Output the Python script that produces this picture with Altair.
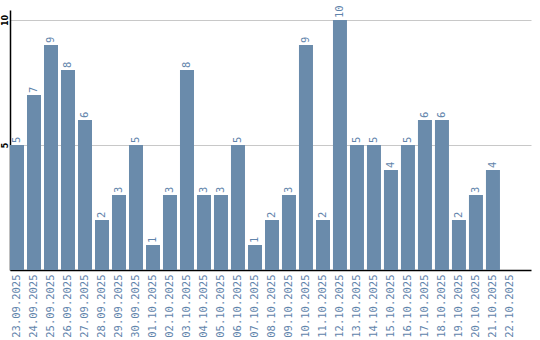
import altair as alt
import pandas as pd

dates = ["23.09.2025", "24.09.2025", "25.09.2025", "26.09.2025", "27.09.2025",
         "28.09.2025", "29.09.2025", "30.09.2025", "01.10.2025", "02.10.2025",
         "03.10.2025", "04.10.2025", "05.10.2025", "06.10.2025", "07.10.2025",
         "08.10.2025", "09.10.2025", "10.10.2025", "11.10.2025", "12.10.2025",
         "13.10.2025", "14.10.2025", "15.10.2025", "16.10.2025", "17.10.2025",
         "18.10.2025", "19.10.2025", "20.10.2025", "21.10.2025", "22.10.2025"]
values = [5, 7, 9, 8, 6, 2, 3, 5, 1, 3, 8, 3, 3, 5, 1, 2, 3, 9, 2, 10,
          5, 5, 4, 5, 6, 6, 2, 3, 4, 0]

df = pd.DataFrame({"date": dates, "value": values})

BAR = "#6a8bab"
LABEL = "#5f84ab"

x = alt.X("date:N", sort=dates, title=None,
          scale=alt.Scale(paddingInner=0.176, paddingOuter=0.413, align=0),
          axis=alt.Axis(labelAngle=-90, labelAlign="right", labelBaseline="middle",
                        labelFont="DejaVu Sans Mono", labelFontSize=10.5,
                        labelColor=LABEL, labelPadding=4, ticks=False,
                        domainColor="#000000", domainWidth=1.5, grid=False))
y = alt.Y("value:Q", title=None,
          scale=alt.Scale(domain=[0, 10.4], nice=False, zero=True),
          axis=alt.Axis(values=[5, 10], labelAngle=-90, labelAlign="center",
                        labelBaseline="bottom", labelFontSize=8, labelFontWeight="bold",
                        labelColor="#000000", labelFont="DejaVu Sans", labelPadding=1,
                        ticks=False, domainColor="#000000", domainWidth=1.5,
                        grid=True, gridColor="#c8c8c8", gridWidth=1))

bars = alt.Chart(df).mark_bar(color=BAR).encode(x=x, y=y)
text = alt.Chart(df).transform_filter("datum.value > 0").mark_text(
    angle=270, align="left", baseline="middle", dx=2,
    font="DejaVu Sans Mono", fontSize=10.5, color=LABEL
).encode(x=alt.X("date:N", sort=dates), y="value:Q", text="value:Q")

chart = (bars + text).properties(
    width=521, height=260,
    background="white",
    autosize=alt.AutoSizeParams(type="none"),
    padding={"left": 10, "top": 10, "right": 9, "bottom": 70},
).configure_view(stroke=None, strokeWidth=0)

chart.save("out.html", embed_options={"renderer": "svg", "actions": False})
